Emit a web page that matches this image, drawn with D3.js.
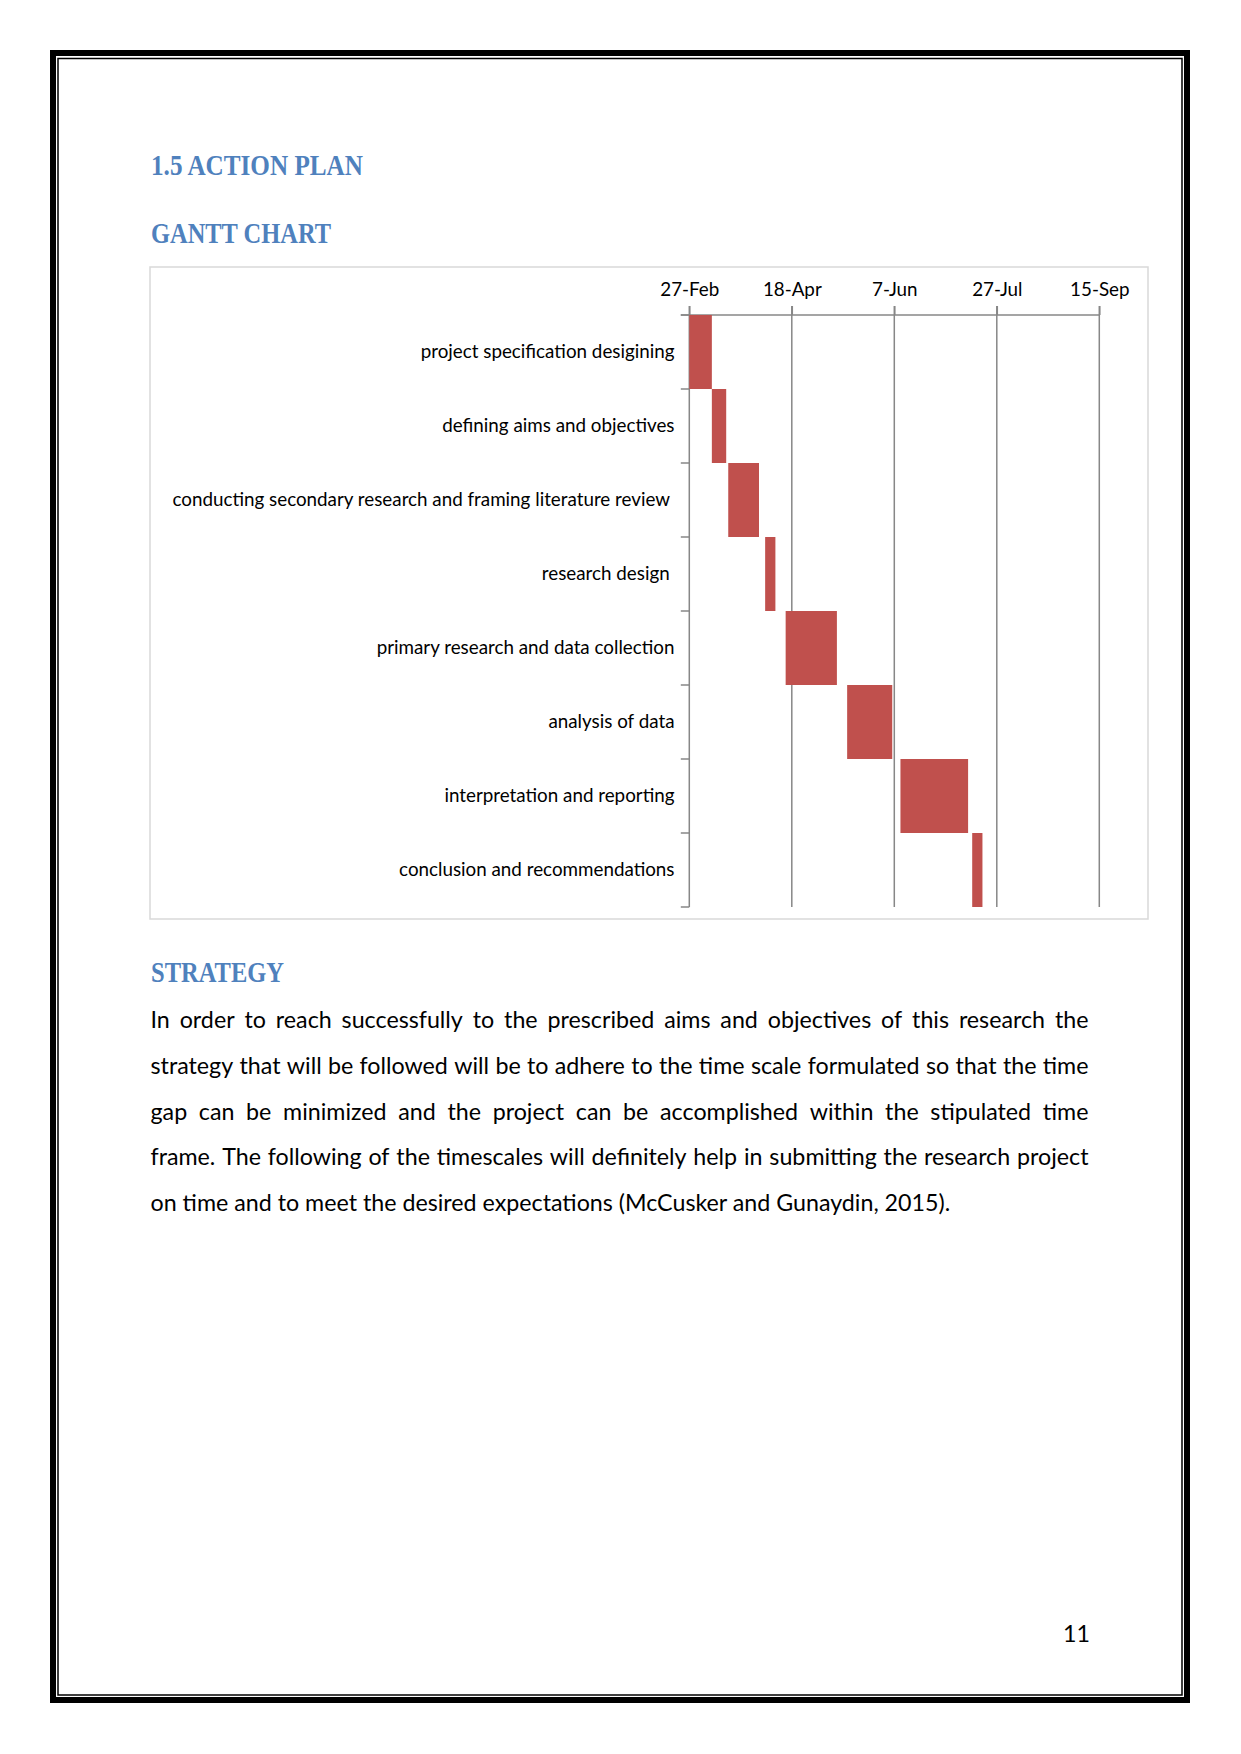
<!DOCTYPE html>
<html>
<head>
<meta charset="utf-8">
<script src="https://cdn.jsdelivr.net/npm/d3@7"></script>
<style>
  html, body { margin: 0; padding: 0; background: #fff; }
  svg { display: block; }
  text { white-space: pre; }
</style>
</head>
<body>
<script>
// ---------- DATA ----------
const categories = [
  "project specification desigining",
  "defining aims and objectives",
  "conducting secondary research and framing literature review ",
  "research design ",
  "primary research and data collection",
  "analysis of data",
  "interpretation and reporting",
  "conclusion and recommendations"
];
const startDates = ["2017-02-27", "2017-03-10", "2017-03-18", "2017-04-05",
                    "2017-04-15", "2017-05-15", "2017-06-10", "2017-07-15"];
const durations = [11, 7, 15, 5, 25, 22, 33, 5];
const tickDates = ["2017-02-27", "2017-04-18", "2017-06-07", "2017-07-27", "2017-09-15"];
const tickLabels = ["27-Feb", "18-Apr", "7-Jun", "27-Jul", "15-Sep"];

const headings = ["1.5 ACTION PLAN", "GANTT CHART", "STRATEGY"];
const paragraphLines = [
  "In order to reach successfully to the prescribed aims and objectives of this research the",
  "strategy that will be followed will be to adhere to the time scale formulated so that the time",
  "gap can be minimized and the project can be accomplished within the stipulated time",
  "frame. The following of the timescales will definitely help in submitting the research project",
  "on time and to meet the desired expectations (McCusker and Gunaydin, 2015)."
];
const pageNumber = "11";

// ---------- SETUP ----------
const W = 1241, H = 1754;
const svg = d3.select("body").append("svg").attr("width", W).attr("height", H);
svg.append("rect").attr("width", W).attr("height", H).attr("fill", "#fff");

const BODY_FONT = "Lato, 'Open Sans', sans-serif";
const HEAD_FONT = "'Liberation Serif', 'DejaVu Serif', serif";
const BLUE = "#4F81BD";

// page borders
svg.append("rect").attr("x", 53).attr("y", 53).attr("width", 1134).attr("height", 1647)
  .attr("fill", "none").attr("stroke", "#000").attr("stroke-width", 6);
svg.append("rect").attr("x", 58).attr("y", 58.5).attr("width", 1124).attr("height", 1636.5)
  .attr("fill", "none").attr("stroke", "#000").attr("stroke-width", 1.5);

// helper to fit font size to a target width
function fitSize(str, base, target, family) {
  const t = svg.append("text").attr("font-family", family).attr("font-size", base).text(str);
  const w = t.node().getComputedTextLength();
  t.remove();
  return base * target / w;
}

// headings
const headPos = [[151, 175, 212], [151, 243, 180], [151, 982, 133]];
headings.forEach((h, i) => {
  svg.append("text")
    .attr("x", headPos[i][0]).attr("y", headPos[i][1])
    .attr("font-family", HEAD_FONT).attr("font-weight", "bold")
    .attr("font-size", 29).attr("fill", BLUE)
    .attr("textLength", headPos[i][2]).attr("lengthAdjust", "spacingAndGlyphs")
    .text(h);
});

// ---------- CHART ----------
svg.append("rect").attr("x", 150).attr("y", 267).attr("width", 998).attr("height", 652)
  .attr("fill", "#fff").attr("stroke", "#d9d9d9").attr("stroke-width", 1.5);

const parse = d3.utcParse("%Y-%m-%d");
const DAY = 864e5;
const x = d3.scaleUtc()
  .domain([parse(tickDates[0]), parse(tickDates[tickDates.length - 1])])
  .range([689.3, 1099.3]);
const y = d3.scaleBand().domain(categories).range([315, 907]).padding(0);

const labelSize = fitSize("primary research and data collection", 19, 298, BODY_FONT);
const GRID = "#878787";

const g = svg.append("g");

// vertical gridlines (incl. tick marks above the axis)
g.selectAll("line.grid").data(tickDates.slice(1)).enter().append("line")
  .attr("x1", d => x(parse(d))).attr("x2", d => x(parse(d)))
  .attr("y1", 306).attr("y2", 907)
  .attr("stroke", GRID).attr("stroke-width", 1.5);

// top axis
const xAxis = d3.axisTop(x)
  .tickValues(tickDates.map(parse))
  .tickFormat((d, i) => tickLabels[i])
  .tickSize(9).tickSizeOuter(0);
const ax = g.append("g").attr("transform", "translate(0,315)").call(xAxis);
ax.select(".domain").attr("stroke", GRID).attr("stroke-width", 1.5)
  .attr("d", `M${x.range()[0] - 8.5},0H${x.range()[1]}`);
ax.selectAll(".tick line").attr("stroke", GRID).attr("stroke-width", 1.5);
ax.selectAll(".tick text").attr("font-family", BODY_FONT).attr("font-size", labelSize)
  .attr("fill", "#000").attr("y", -19.5).attr("dy", 0);

// left axis
const yAxis = d3.axisLeft(y).tickSize(0).tickFormat("");
const ay = g.append("g").attr("transform", `translate(${x.range()[0]},0)`).call(yAxis);
ay.select(".domain").attr("stroke", GRID).attr("stroke-width", 1.5)
  .attr("d", `M0,306V907`);
// category boundary ticks
const bounds = categories.map(c => y(c)).concat([y.range()[1]]);
g.selectAll("line.ctick").data(bounds).enter().append("line")
  .attr("x1", x.range()[0] - 8.5).attr("x2", x.range()[0])
  .attr("y1", d => d).attr("y2", d => d)
  .attr("stroke", GRID).attr("stroke-width", 1.5);

// bars
g.selectAll("rect.bar").data(categories).enter().append("rect")
  .attr("x", (d, i) => x(parse(startDates[i])))
  .attr("y", d => y(d))
  .attr("width", (d, i) => x(new Date(+parse(startDates[i]) + durations[i] * DAY)) - x(parse(startDates[i])))
  .attr("height", y.bandwidth())
  .attr("fill", "#C0504D");

// category labels
g.selectAll("text.cat").data(categories).enter().append("text")
  .attr("x", 674.5).attr("y", d => y(d) + y.bandwidth() / 2 + 5.5)
  .attr("text-anchor", "end")
  .attr("font-family", BODY_FONT).attr("font-size", labelSize).attr("fill", "#000")
  .text(d => d);

// ---------- PARAGRAPH ----------
const paraSize = fitSize(paragraphLines[4], 25, 800, BODY_FONT);
const left = 150.5, right = 1088.5, base0 = 1028, lineH = 45.8;
paragraphLines.forEach((line, i) => {
  const yy = base0 + i * lineH;
  if (i === paragraphLines.length - 1) {
    svg.append("text").attr("x", left).attr("y", yy)
      .attr("font-family", BODY_FONT).attr("font-size", paraSize).attr("fill", "#000")
      .text(line);
    return;
  }
  const words = line.split(" ");
  const widths = words.map(w => {
    const t = svg.append("text").attr("font-family", BODY_FONT).attr("font-size", paraSize).text(w);
    const ww = t.node().getComputedTextLength();
    t.remove();
    return ww;
  });
  const total = d3.sum(widths);
  const gap = (right - left - total) / (words.length - 1);
  let cx = left;
  words.forEach((w, j) => {
    svg.append("text").attr("x", cx).attr("y", yy)
      .attr("font-family", BODY_FONT).attr("font-size", paraSize).attr("fill", "#000")
      .text(w);
    cx += widths[j] + gap;
  });
});

// page number
svg.append("text").attr("x", 1090).attr("y", 1642).attr("text-anchor", "end")
  .attr("font-family", BODY_FONT).attr("font-size", paraSize).attr("fill", "#000")
  .text(pageNumber);
</script>
</body>
</html>
